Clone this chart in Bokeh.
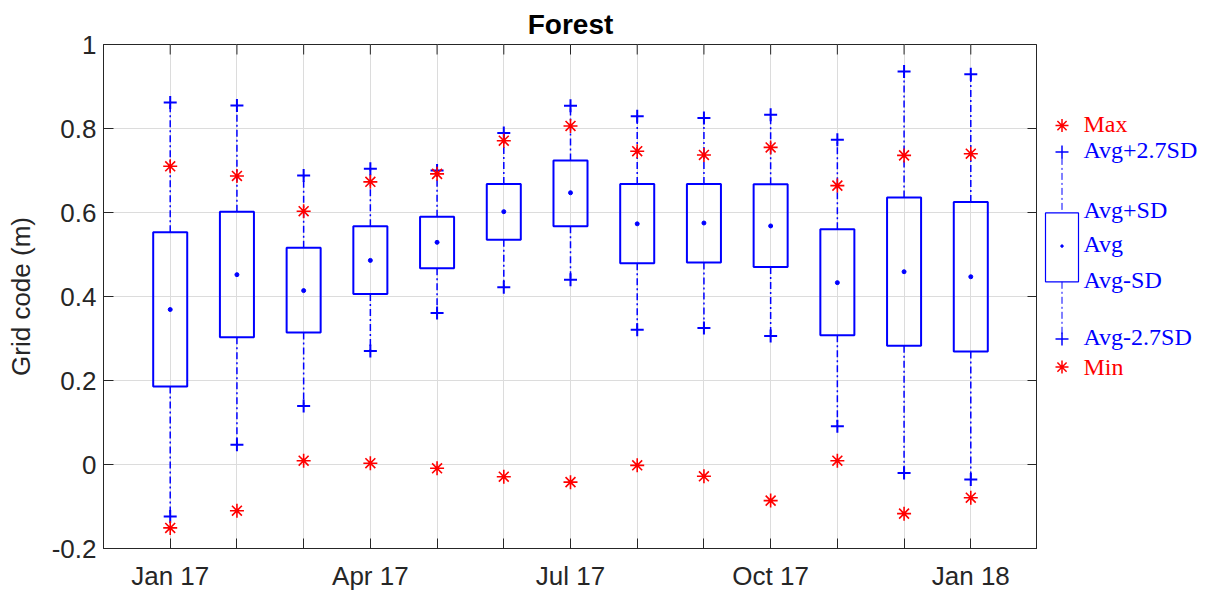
from bokeh.plotting import figure
from bokeh.layouts import row
from bokeh.models import Range1d, FixedTicker
from bokeh.embed import file_html
from bokeh.resources import INLINE
from bokeh.core.properties import value
import numpy as np

months = ["Jan 17", "Feb 17", "Mar 17", "Apr 17", "May 17", "Jun 17", "Jul 17",
          "Aug 17", "Sep 17", "Oct 17", "Nov 17", "Dec 17", "Jan 18"]
labeled = ["Jan 17", "Apr 17", "Jul 17", "Oct 17", "Jan 18"]

max_v  = [0.710, 0.687, 0.603, 0.673, 0.692, 0.771, 0.806, 0.746, 0.737, 0.755, 0.664, 0.736, 0.740]
up27   = [0.862, 0.855, 0.688, 0.704, 0.700, 0.789, 0.854, 0.829, 0.825, 0.833, 0.773, 0.936, 0.929]
up_sd  = [0.553, 0.602, 0.516, 0.567, 0.590, 0.668, 0.724, 0.668, 0.668, 0.667, 0.560, 0.636, 0.625]
avg    = [0.369, 0.452, 0.414, 0.486, 0.529, 0.602, 0.647, 0.573, 0.575, 0.568, 0.433, 0.459, 0.447]
lo_sd  = [0.186, 0.303, 0.314, 0.406, 0.467, 0.535, 0.567, 0.479, 0.481, 0.470, 0.308, 0.283, 0.269]
lo27   = [-0.124, 0.047, 0.139, 0.270, 0.361, 0.422, 0.440, 0.321, 0.325, 0.306, 0.091, -0.020, -0.036]
min_v  = [-0.151, -0.110, 0.009, 0.003, -0.009, -0.029, -0.042, -0.002, -0.028, -0.086, 0.009, -0.117, -0.079]

y_ticks = [-0.2, 0.0, 0.2, 0.4, 0.6, 0.8, 1.0]
y_labels = ["-0.2", "0", "0.2", "0.4", "0.6", "0.8", "1"]

legend_items = ["Max", "Avg+2.7SD", "Avg+SD", "Avg", "Avg-SD", "Avg-2.7SD", "Min"]

x = np.arange(len(months))
BLUE = "#0000ff"
RED = "#ff0000"
AX = "#262626"
FONT = "Liberation Sans"

W1, W2, H = 1037, 162, 593
x_lo, x_hi = -1, len(months)
y_lo, y_hi = -0.2, 1.0

p = figure(width=W1, height=H, output_backend="svg", toolbar_location=None,
           x_range=Range1d(x_lo, x_hi), y_range=Range1d(y_lo, y_hi),
           min_border_left=103, min_border_right=0, min_border_top=44, min_border_bottom=45,
           title="Forest")
p.title.align = "center"
p.title.text_font = FONT
p.title.text_font_size = "28px"
p.title.text_font_style = "bold"
p.title.text_color = "black"
p.title.standoff = 10

p.outline_line_color = AX
p.outline_line_width = 1

p.xaxis.ticker = FixedTicker(ticks=list(x))
p.xaxis.major_label_overrides = {int(i): (m if m in labeled else "") for i, m in zip(x, months)}
p.yaxis.ticker = FixedTicker(ticks=y_ticks)
p.yaxis.major_label_overrides = {t: l for t, l in zip(y_ticks, y_labels)}
p.yaxis.axis_label = "Grid code (m)"
for ax in [p.xaxis[0], p.yaxis[0]]:
    ax.major_label_text_font = FONT
    ax.major_label_text_font_size = "26px"
    ax.major_label_text_color = AX
    ax.axis_line_color = AX
    ax.major_tick_line_color = AX
    ax.major_tick_in = 10
    ax.major_tick_out = 0
    ax.minor_tick_line_color = None
p.xaxis.major_label_standoff = 12
p.yaxis.major_label_standoff = 7
p.yaxis.axis_label_text_font = FONT
p.yaxis.axis_label_text_font_size = "26px"
p.yaxis.axis_label_text_font_style = "normal"
p.yaxis.axis_label_text_color = AX
p.yaxis.axis_label_standoff = 13

p.xgrid.ticker = FixedTicker(ticks=list(x))
p.ygrid.ticker = FixedTicker(ticks=y_ticks)
p.grid.grid_line_color = "#dcdcdc"
p.grid.grid_line_width = 1

# inward tick marks on the top and right edges of the box (half of each dash is clipped)
p.scatter([x_hi] * len(y_ticks), y_ticks, marker="dash", size=20, line_color=AX, line_width=1)
p.scatter(x, [y_hi] * len(x), marker="dash", angle=np.pi / 2, size=20, line_color=AX, line_width=1)

dash = "7 3 2 3"
p.segment(x0=x, y0=up_sd, x1=x, y1=up27, line_color=BLUE, line_width=1.5, line_dash=dash)
p.segment(x0=x, y0=lo_sd, x1=x, y1=lo27, line_color=BLUE, line_width=1.5, line_dash=dash)
p.quad(left=x - 0.255, right=x + 0.255, top=up_sd, bottom=lo_sd,
       fill_color=None, line_color=BLUE, line_width=2)
p.scatter(x, avg, marker="circle", size=4, color=BLUE)
p.scatter(x, up27, marker="cross", size=13, line_color=BLUE, line_width=2)
p.scatter(x, lo27, marker="cross", size=13, line_color=BLUE, line_width=2)
p.scatter(x, max_v, marker="asterisk", size=14, line_color=RED, line_width=1.6)
p.scatter(x, min_v, marker="asterisk", size=14, line_color=RED, line_width=1.6)

# legend panel: x in pixels from its left edge, y shared with the main axis
lg = figure(width=W2, height=H, output_backend="svg", toolbar_location=None,
            x_range=Range1d(0, W2), y_range=p.y_range,
            min_border=0, x_axis_location=None, y_axis_location=None)
lg.outline_line_color = None
lg.grid.visible = False
mx = 24.5
ly = [0.807, 0.744, 0.611, 0.520, 0.446, 0.299, 0.232]   # legend row positions (axis units)
lg.scatter([mx], [ly[0]], marker="asterisk", size=13, line_color=RED, line_width=1.5)
lg.scatter([mx], [ly[1]], marker="cross", size=13, line_color=BLUE, line_width=1.5)
lg.segment(x0=[mx, mx], y0=[0.730, 0.435], x1=[mx, mx], y1=[0.599, 0.308], line_color=BLUE,
           line_width=1, line_dash=dash)
lg.quad(left=[8], right=[41], top=[0.599], bottom=[0.435], fill_color=None,
        line_color=BLUE, line_width=1.2)
lg.scatter([mx], [ly[3]], marker="circle", size=2.5, color=BLUE)
lg.scatter([mx], [ly[5]], marker="cross", size=13, line_color=BLUE, line_width=1.5)
lg.scatter([mx], [ly[6]], marker="asterisk", size=13, line_color=RED, line_width=1.5)
ty = [0.811, 0.748, 0.607, 0.525, 0.440, 0.303, 0.232]
cols = [RED, BLUE, BLUE, BLUE, BLUE, BLUE, RED]
lg.text(x=[46] * len(legend_items), y=ty, text=legend_items, text_color=cols,
        text_font=value("Liberation Serif"), text_font_size="24px",
        text_baseline="alphabetic", text_align="left")

layout = row(p, lg, spacing=0)
open("out.html", "w").write(file_html(layout, INLINE))
